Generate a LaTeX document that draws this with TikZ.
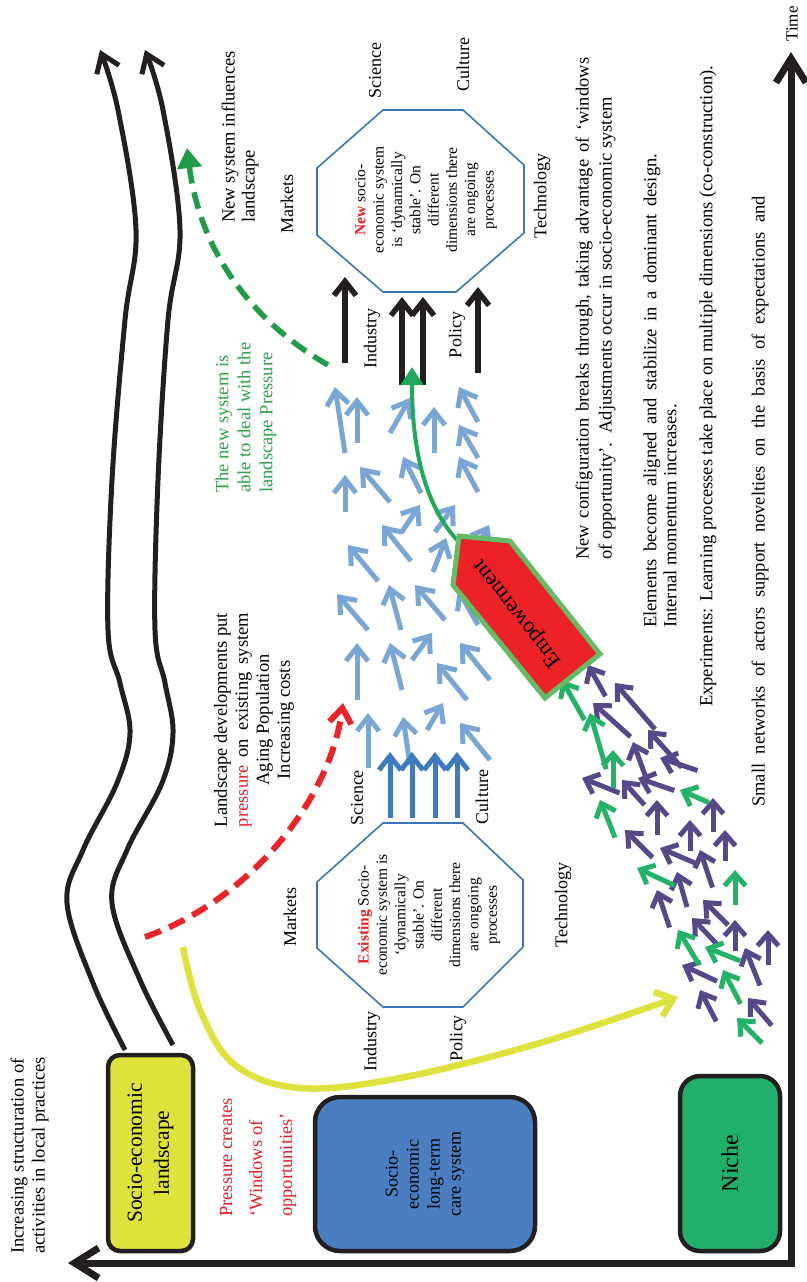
\documentclass[tikz,border=0pt]{standalone}
\usepackage{fontspec}
\setmainfont{Liberation Serif}
\usetikzlibrary{arrows.meta}
\newcommand\fsz[2]{\fontsize{#1}{#2}\selectfont}
\definecolor{axisblack}{RGB}{35,31,32}
\definecolor{landyellow}{RGB}{223,226,58}
\definecolor{bluebox}{RGB}{74,126,193}
\definecolor{nichegreen}{RGB}{33,176,106}
\definecolor{octblue}{RGB}{59,118,186}
\definecolor{lightblue}{RGB}{122,166,214}
\definecolor{darkblue}{RGB}{62,122,190}
\definecolor{purp}{RGB}{87,72,137}
\definecolor{nichegr}{RGB}{34,178,104}
\definecolor{redarrow}{RGB}{237,35,40}
\definecolor{dashgreen}{RGB}{32,156,72}
\definecolor{solidgreen}{RGB}{30,170,90}
\definecolor{pentred}{RGB}{236,34,39}
\definecolor{pentgreen}{RGB}{101,188,102}
\definecolor{textred}{RGB}{237,28,36}
\definecolor{textgreen}{RGB}{45,160,75}
\definecolor{yarrowc}{RGB}{222,226,60}
\begin{document}
\begin{tikzpicture}[x=1pt,y=-1pt,
  lbl/.style={rotate=90, inner sep=0pt, font=\fsz{18}{21}},
  bodytxt/.style={rotate=90, inner sep=0pt, align=left, font=\fsz{18.5}{22}},
  octtxt/.style={rotate=90, inner sep=0pt, align=center, font=\fsz{15.5}{18.3}},
  boxnode/.style={rotate=90, draw=axisblack, line width=4.5pt, align=center, inner sep=0pt},
  octline/.style={draw=octblue, line width=1.6pt, line join=miter},
  barb/.style={-{Straight Barb[length=14pt,width=22pt,line join=miter,line cap=butt]}},
  lbarrow/.style={barb, draw=lightblue, line width=5pt},
  dbarrow/.style={barb, draw=darkblue, line width=5pt},
  bkarrow/.style={barb, draw=axisblack, line width=5.5pt},
  smallbarb/.style={-{Straight Barb[length=12pt,width=21pt,line join=miter,line cap=butt]}},
  parrow/.style={smallbarb, draw=purp, line width=5pt},
  garrow/.style={smallbarb, draw=nichegr, line width=5pt},
  axisline/.style={draw=axisblack, line width=7pt, line join=miter,
    {Straight Barb[length=24pt,width=30pt,line join=miter,line cap=butt]}-{Straight Barb[length=24pt,width=30pt,line join=miter,line cap=butt]}},
  lcurve/.style={draw=axisblack, line width=5pt, -{Straight Barb[length=17pt,width=24pt,line join=miter,line cap=butt]}},
  yarrow/.style={draw=yarrowc, line width=6.5pt, -{Straight Barb[length=16pt,width=26pt,line join=miter,line cap=butt]}},
  rdash/.style={draw=redarrow, line width=6pt, dash pattern=on 17pt off 9pt, -{Straight Barb[length=15pt,width=22pt,line join=miter,line cap=butt]}},
  gdash/.style={draw=dashgreen, line width=5.5pt, dash pattern=on 17pt off 9pt, -{Triangle[length=20pt,width=24pt]}},
  gsolid/.style={draw=solidgreen, line width=4pt, -{Triangle[length=18pt,width=22pt]}}
]
\useasboundingbox (0,0) rectangle (806,1282);

% axes
\coordinate (xend) at (68,1263);
\coordinate (origin) at (791,1263);
\coordinate (tend) at (791,52);
\draw[axisline] (xend) -- (origin) -- (tend);
\node[lbl, font=\fsz{17}{20}] (time) at (792,24) {Time};
\node[bodytxt, anchor=west, font=\fsz{18.5}{21}] (ylab) at (29.5,1254) {Increasing structuration of\\activities in local practices};

% landscape curves
\draw[lcurve] plot[smooth, tension=0.6] coordinates {(125,1050) (93,983) (67,903) (83,850) (117,783) (130,733) (120,683) (108,630) (112,480) (125,320) (136,230) (118,110) (100,50)};
\draw[lcurve] plot[smooth, tension=0.6] coordinates {(173,1045) (140,980) (112,903) (127,850) (162,783) (173,733) (165,683) (155,630) (158,480) (168,320) (180,230) (163,110) (145,50)};

% yellow arrow
\draw[yarrow] plot[smooth, tension=0.6] coordinates {(183,947) (200,1010) (235,1065) (300,1088) (400,1078) (540,1043) (678,997)};

% boxes
\node[boxnode, fill=landyellow, minimum width=196pt, minimum height=85pt, rounded corners=12pt, font=\fsz{21.5}{27}] (land) at (150.5,1153) {Socio-economic\\landscape};
\node[boxnode, fill=bluebox, minimum width=154pt, minimum height=220pt, rounded corners=25pt, font=\fsz{18}{21}] (regime) at (425,1174) {Socio-\\economic\\long-term\\care system};
\node[boxnode, fill=nichegreen, minimum width=175pt, minimum height=100pt, rounded corners=20pt, font=\fsz{24}{28}] (niche) at (730,1163.5) {Niche};
\node[bodytxt, anchor=west, text=textred, font=\fsz{18.5}{30}] (window) at (258,1217) {Pressure creates\\‘Windows of\\opportunities’};

% octagons
\draw[octline] (383,110) -- (463,110) -- (524,165) -- (524,233) -- (456,292) -- (383,292) -- (317,235) -- (317,168) -- cycle;
\node[octtxt] (newtxt) at (426,200) {{\bfseries\color{textred}New} socio-\\economic system\\is ‘dynamically\\stable’. On\\different\\dimensions there\\are ongoing\\processes};
\draw[octline] (383,823) -- (463,823) -- (523,880) -- (523,947) -- (463,1007) -- (383,1007) -- (317,948) -- (317,882) -- cycle;
\node[octtxt] (oldtxt) at (429,915) {{\bfseries\color{textred}Existing} Socio-\\economic system is\\‘dynamically\\stable’. On\\different\\dimensions there\\are ongoing\\processes};

% dimension labels
\node[lbl] (sci1) at (375,71) {Science};
\node[lbl] (cul1) at (463,65) {Culture};
\node[lbl] (mar1) at (287,204) {Markets};
\node[lbl] (tec1) at (542,196) {Technology};
\node[lbl] (ind1) at (372,338) {Industry};
\node[lbl] (pol1) at (457,335) {Policy};
\node[lbl] (sci2) at (357,798) {Science};
\node[lbl] (cul2) at (482,797) {Culture};
\node[lbl] (mar2) at (290,917) {Markets};
\node[lbl] (tec2) at (563,905) {Technology};
\node[lbl] (ind2) at (372,1041) {Industry};
\node[lbl] (pol2) at (458,1038) {Policy};

% light blue arrows
\foreach \ax/\ay/\bx/\by in {345/453/335/387, 357/443/357/397, 390/433/410/398, 434/453/434/407, 478/422/459/387, 478/458/459/425, 478/492/459/457, 345/512/345/475, 390/502/360/467, 421/493/403/457, 401/533/420/505, 411/561/382/525, 435/532/455/505, 433/572/446/538, 378/581/348/545, 368/630/337/594, 401/630/389/585, 445/620/415/585, 357/700/357/643, 402/690/390/643, 412/660/432/633, 467/700/437/663, 490/680/460/643, 368/768/368/713, 410/765/403/717, 427/730/443/703, 490/760/460/723, 470/560/489/525, 478/625/458/590}
  \draw[lbarrow] (\ax,\ay) -- (\bx,\by);

% dark blue arrows
\foreach \x in {390,412,435,457}
  \draw[dbarrow] (\x,818) -- (\x,752);

% black arrows into new system
\draw[bkarrow] (345,363) -- (345,277);
\draw[bkarrow] (402,385) -- (402,297);
\draw[bkarrow] (423,385) -- (423,297);
\draw[bkarrow] (478,373) -- (478,287);

% niche arrows
\foreach \ax/\ay/\bx/\by in {602/690/588/665, 647/720/615/683, 623/730/593/703, 675/760/648/730, 645/775/633/742, 690/768/660/758, 612/790/582/778, 640/800/622/780, 667/788/638/778, 657/828/657/800, 647/852/625/830, 713/825/713/798, 690/845/690/820, 688/860/660/848, 725/855/725/830, 710/880/700/850, 685/900/677/872, 667/920/657/890, 723/920/703/900, 713/940/692/918, 735/945/735/920, 768/958/768/930, 757/978/745/948, 710/978/682/965, 713/1015/700/990, 767/1020/748/998}
  \draw[parrow] ({\bx+1.25*(\ax-\bx)},{\by+1.25*(\ay-\by)}) -- (\bx,\by);
\foreach \ax/\ay/\bx/\by in {580/712/562/680, 603/758/590/713, 613/780/613/750, 612/830/600/800, 703/800/680/790, 667/882/637/868, 735/898/735/870, 695/958/678/930, 733/958/705/947, 737/997/723/970, 757/1038/737/1018}
  \draw[garrow] ({\bx+1.25*(\ax-\bx)},{\by+1.25*(\ay-\by)}) -- (\bx,\by);

% green solid curve from empowerment to new system
\coordinate (empTip) at (457,540);
\coordinate (newIn) at (412,367);
\draw[gsolid] (empTip) .. controls (425,505) and (412,450) .. (newIn);

% empowerment
\draw[draw=pentgreen, fill=pentred, line width=5pt, line join=miter] (459,536) -- (510,541) -- (600,654) -- (545,698) -- (453,585) -- cycle;
\node[rotate=128, inner sep=0pt, font=\fsz{22}{24}] (emp) at (518,613) {Empowerment};

% dashed arrows
\coordinate (gdStart) at (328,365);
\coordinate (gdEnd) at (187,148);
\draw[gdash] (gdStart) .. controls (250,320) and (200,250) .. (gdEnd);
\coordinate (rdStart) at (145,937);
\coordinate (rdEnd) at (343,703);
\draw[rdash] (rdStart) .. controls (250,900) and (330,800) .. (rdEnd);

% texts
\node[bodytxt, anchor=west, font=\fsz{18.5}{20}] (influ) at (240,223) {New system influences\\landscape};
\node[rotate=90, inner sep=0pt, align=center, font=\fsz{18.5}{21}] (landdev) at (254,720) {\makebox[214pt][s]{Landscape developments put}\\\makebox[214pt][s]{{\color{textred}pressure} on existing system}\\Aging Population\\Increasing costs};
\node[bodytxt, anchor=west, text=textgreen, font=\fsz{18.5}{22}] (newdeal) at (246,493) {The new system is\\able to deal with the\\landscape Pressure};
\node[bodytxt, anchor=west, font=\fsz{18.5}{23}] (breaks) at (595.5,560) {\makebox[502pt][s]{New configuration breaks through, taking advantage of ‘windows}\\of opportunity’.\ \ Adjustments occur in socio-economic system};
\node[bodytxt, anchor=west, font=\fsz{18.5}{20}] (elem) at (660,628) {\makebox[474pt][s]{Elements become aligned and stabilize in a dominant design.}\\Internal momentum increases.};
\node[bodytxt, anchor=west] (exper) at (708,707) {Experiments: Learning processes take place on multiple dimensions (co-construction).};
\node[bodytxt, anchor=west] (small) at (760,807) {\makebox[611pt][s]{Small networks of actors support novelties on the basis of expectations and}};
\end{tikzpicture}
\end{document}
